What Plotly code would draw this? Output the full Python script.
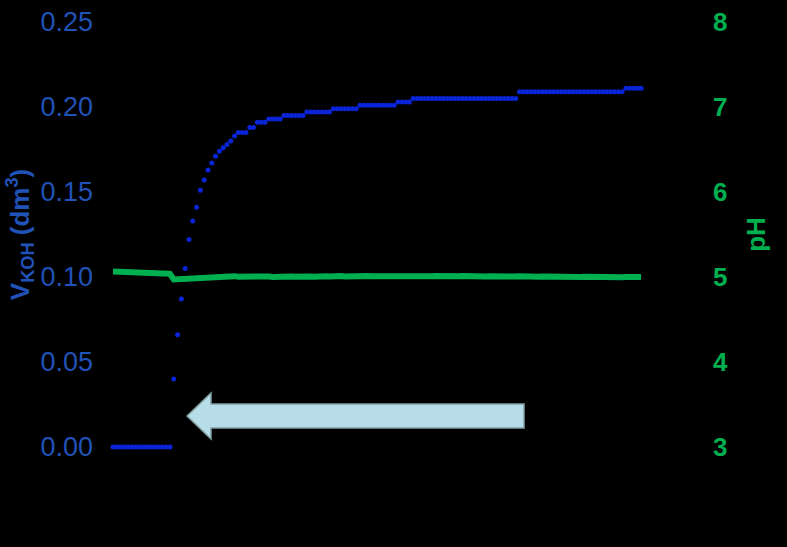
import plotly.graph_objects as go

# sample number (hidden x axis)
sample = list(range(140))

# titrant volume V_KOH (dm3)
v_koh = [
    0.000, 0.000, 0.000, 0.000, 0.000, 0.000, 0.000, 0.000,
    0.000, 0.000, 0.000, 0.000, 0.000, 0.000, 0.000, 0.000,
    0.040, 0.066, 0.087, 0.105, 0.122, 0.133, 0.141, 0.151,
    0.157, 0.163, 0.167, 0.171, 0.174, 0.176, 0.178, 0.180,
    0.183, 0.185, 0.185, 0.185, 0.188, 0.188, 0.191, 0.191,
    0.191, 0.193, 0.193, 0.193, 0.193, 0.195, 0.195, 0.195,
    0.195, 0.195, 0.195, 0.197, 0.197, 0.197, 0.197, 0.197,
    0.197, 0.197, 0.199, 0.199, 0.199, 0.199, 0.199, 0.199,
    0.199, 0.201, 0.201, 0.201, 0.201, 0.201, 0.201, 0.201,
    0.201, 0.201, 0.201, 0.203, 0.203, 0.203, 0.203, 0.205,
    0.205, 0.205, 0.205, 0.205, 0.205, 0.205, 0.205, 0.205,
    0.205, 0.205, 0.205, 0.205, 0.205, 0.205, 0.205, 0.205,
    0.205, 0.205, 0.205, 0.205, 0.205, 0.205, 0.205, 0.205,
    0.205, 0.205, 0.205, 0.209, 0.209, 0.209, 0.209, 0.209,
    0.209, 0.209, 0.209, 0.209, 0.209, 0.209, 0.209, 0.209,
    0.209, 0.209, 0.209, 0.209, 0.209, 0.209, 0.209, 0.209,
    0.209, 0.209, 0.209, 0.209, 0.209, 0.209, 0.209, 0.211,
    0.211, 0.211, 0.211, 0.211,
]

# pH
ph = [
    5.065, 5.062, 5.064, 5.060, 5.058, 5.060, 5.055, 5.054,
    5.052, 5.050, 5.048, 5.047, 5.045, 5.042, 5.040, 5.036,
    4.972, 4.975, 4.980, 4.983, 4.985, 4.990, 4.988, 4.993,
    4.995, 5.000, 4.996, 5.002,
    5.004, 5.008, 5.000, 5.006, 5.010, 5.003, 5.005, 5.008, 5.002, 5.006, 5.004, 5.009, 5.003, 5.006,
    5.001, 5.005, 5.003, 5.007, 5.002, 5.006, 5.004, 5.008, 5.005, 5.003, 5.007, 5.004, 5.009, 5.006,
    5.010, 5.006, 5.012, 5.008, 5.011, 5.007, 5.010, 5.013, 5.009, 5.011, 5.008, 5.012, 5.010, 5.009,
    5.011, 5.008, 5.010, 5.012, 5.009, 5.007, 5.011, 5.013, 5.009, 5.012, 5.010, 5.014, 5.011, 5.013,
    5.010, 5.012, 5.009, 5.011, 5.008, 5.010, 5.007, 5.009, 5.011, 5.008, 5.006, 5.009, 5.007, 5.010,
    5.006, 5.008, 5.005, 5.007, 5.009, 5.006, 5.004, 5.007, 5.005, 5.008, 5.004, 5.006, 5.003, 5.005,
    5.002, 5.006, 5.004, 5.001, 5.005, 5.003, 5.006, 5.002, 5.004, 5.000, 5.003, 5.001, 5.004, 5.002,
    4.999, 5.003, 5.000, 5.002, 4.998, 5.001, 4.999, 5.002, 4.998, 5.000, 4.997, 5.000, 4.998, 4.999,
]

v_ticks = [0.00, 0.05, 0.10, 0.15, 0.20, 0.25]
ph_ticks = [3, 4, 5, 6, 7, 8]

BLUE_MARK = "#0A24D8"
BLUE_TEXT = "#2052B8"
GREEN = "#00B050"
FONT = "Liberation Sans, Arial, sans-serif"

W, H = 787, 547
L, R, T, B = 100, 87, 5, 83


def px(x, y):
    """pixel -> paper coordinates (for the decorative arrow)"""
    return (x - L) / (W - L - R), (H - B - y) / (H - T - B)


fig = go.Figure()
fig.add_trace(go.Scatter(
    x=sample, y=v_koh, mode="markers", yaxis="y",
    marker=dict(size=5, color=BLUE_MARK), showlegend=False, cliponaxis=False,
))
fig.add_trace(go.Scatter(
    x=sample, y=ph, mode="lines", yaxis="y2",
    line=dict(width=6, color=GREEN), showlegend=False,
))

# arrow shape
pts = [(187, 416), (211, 393), (211, 404), (524, 404), (524, 428), (211, 428), (211, 439)]
path = ""
for k, (a, b) in enumerate(pts):
    u, v = px(a, b)
    path += ("M" if k == 0 else "L") + f"{u:.4f},{v:.4f} "
path += "Z"
fig.add_shape(type="path", path=path, xref="paper", yref="paper",
              fillcolor="#B7DEE8", line=dict(color="#7F9DA2", width=1.5))

fig.update_layout(
    width=W, height=H,
    margin=dict(l=L, r=R, t=T, b=B),
    paper_bgcolor="black", plot_bgcolor="black",
    font=dict(family=FONT),
    xaxis=dict(visible=False, range=[-3.42, 154.5]),
    yaxis=dict(
        range=[-0.01, 0.26], tickvals=v_ticks, tickformat=".2f",
        showgrid=False, zeroline=False, showline=False, ticks="",
        tickfont=dict(size=27, color=BLUE_TEXT, family=FONT),
        ticklabelstandoff=6,
        title=dict(text="<b>V<sub>KOH</sub> (dm<sup>3</sup>)</b>",
                   font=dict(size=26, color=BLUE_TEXT, family=FONT), standoff=3),
    ),
    yaxis2=dict(
        range=[2.8, 8.2], tickvals=ph_ticks, overlaying="y", side="right",
        showgrid=False, zeroline=False, showline=False, ticks="",
        tickfont=dict(size=26, color=GREEN, family=FONT, weight="bold"),
        ticklabelstandoff=12,
        title=dict(text="<b>pH</b>", font=dict(size=26, color=GREEN, family=FONT), standoff=19),
    ),
)

fig.write_html(
    "out.html",
    config={"displayModeBar": False},
    post_script="document.body.style.margin='0';document.body.style.background='black';",
)
